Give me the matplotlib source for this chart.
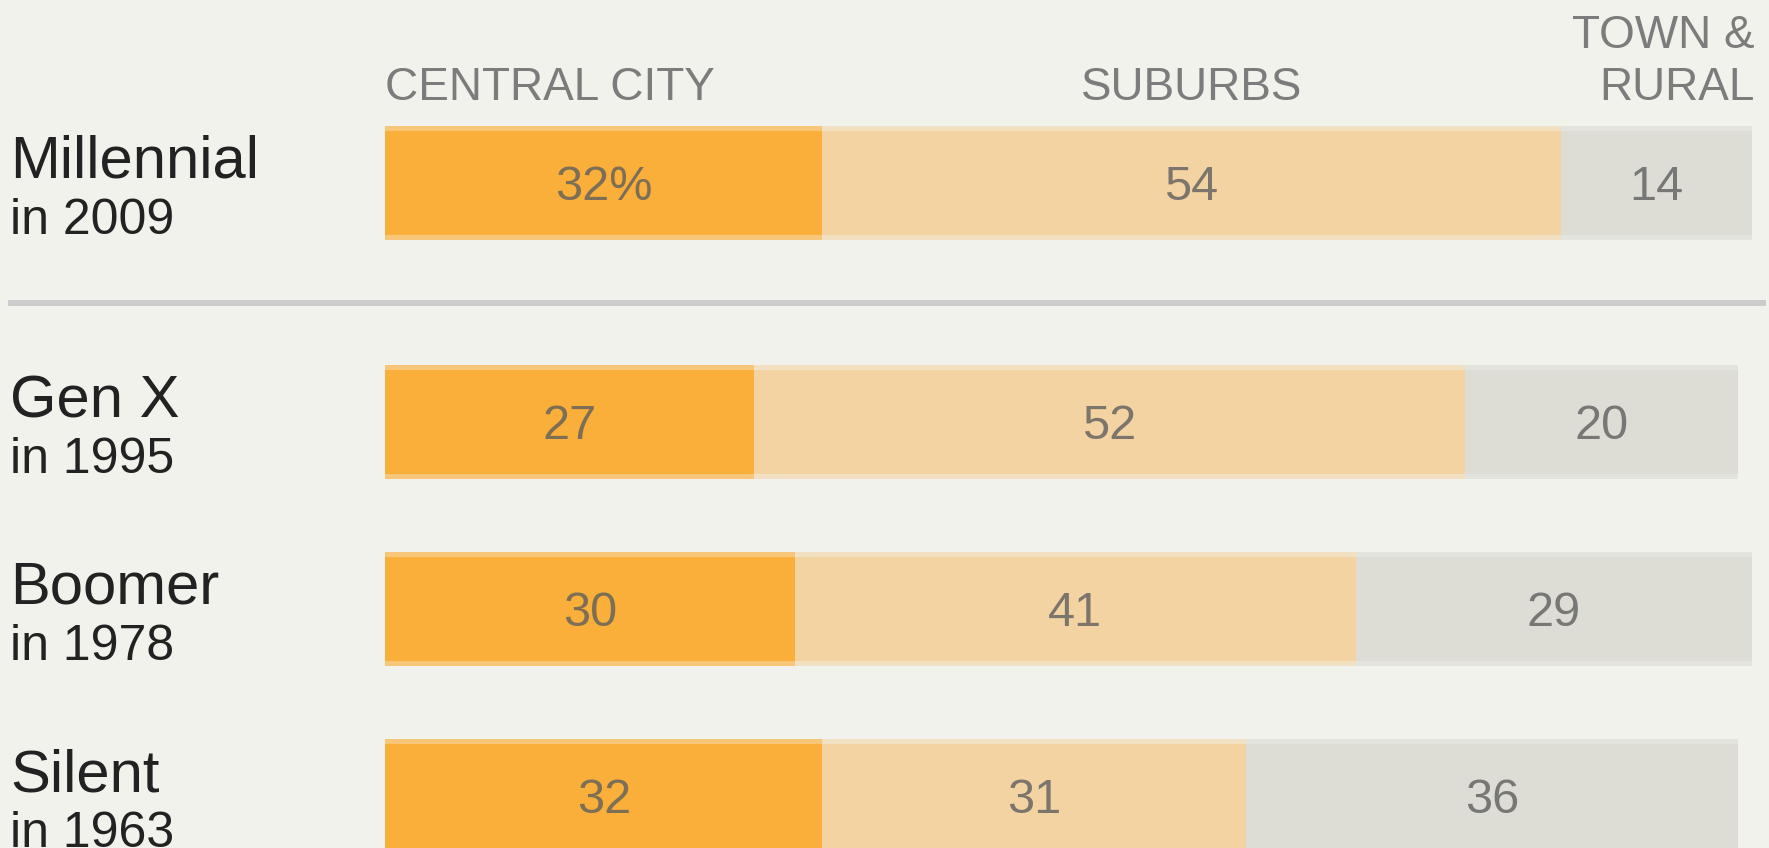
import matplotlib
matplotlib.use("Agg")
import matplotlib.pyplot as plt
import numpy as np

# Share of each generation living in each area type, when they were young adults
generations = ["Millennial", "Gen X", "Boomer", "Silent"]
years = ["in 2009", "in 1995", "in 1978", "in 1963"]
central_city = [32, 27, 30, 32]
suburbs = [54, 52, 41, 31]
town_rural = [14, 20, 29, 36]
headers = ["CENTRAL CITY", "SUBURBS", "TOWN &\nRURAL"]

BG = "#F2F2EC"
main_colors = ["#F9AF3A", "#F2D3A1", "#DDDDD5"]
edge_colors = ["#F8C678", "#F2E0C2", "#E4E4DE"]

PX = 187.0  # pixels per row unit
gap = 52 / PX
ypos = np.arange(len(generations)) + np.array([0, gap, gap, gap])

fig = plt.figure(figsize=(17.69, 8.48), dpi=100, facecolor=BG)
ax = fig.add_axes([0, 0, 1, 1])
ax.set_facecolor(BG)
ax.set_xlim(-385 / 13.67, (1769 - 385) / 13.67)
ax.set_ylim((848 - 183) / PX, -183 / PX)
ax.axis("off")

series = [central_city, suburbs, town_rural]
lefts = np.zeros(len(generations))
for i, vals in enumerate(series):
    vals = np.array(vals, dtype=float)
    ax.barh(ypos, vals, left=lefts, height=114 / PX, color=edge_colors[i], linewidth=0)
    ax.barh(ypos, vals, left=lefts, height=104 / PX, color=main_colors[i], linewidth=0)
    for j, v in enumerate(vals):
        txt = f"{int(v)}%" if (i == 0 and j == 0) else f"{int(v)}"
        ax.text(lefts[j] + v / 2, ypos[j] + 17 / PX, txt, ha="center", va="baseline",
                fontsize=35, color="#5e5e5e", alpha=0.8, family="Liberation Sans")
    lefts = lefts + vals

# row labels
trans = ax.get_yaxis_transform()
for j, (g, yr) in enumerate(zip(generations, years)):
    ax.text(10 / 1769, ypos[j] - 5 / PX, g, transform=trans, ha="left", va="baseline",
            fontsize=43, color="#222222", family="Liberation Sans")
    ax.text(10 / 1769, ypos[j] + 51 / PX, yr, transform=trans, ha="left", va="baseline",
            fontsize=36, color="#222222", family="Liberation Sans")

# column headers, placed over the Millennial bar
hdr_font = dict(fontsize=33, color="#7c7c7c", va="baseline", family="Liberation Sans")
hy = ypos[0] - 83 / PX
ax.text(0, hy, headers[0], ha="left", **hdr_font)
ax.text(central_city[0] + suburbs[0] / 2, hy, headers[1], ha="center", **hdr_font)
top_line, bottom_line = headers[2].split("\n")
ax.text(100.2, hy - 52 / PX, top_line, ha="right", **hdr_font)
ax.text(100.2, hy, bottom_line, ha="right", **hdr_font)

# separator between Millennial and older generations
ax.axhline((ypos[0] + ypos[1]) / 2, xmin=11 / 1769, xmax=1763 / 1769, color="#CCCCCC", linewidth=4.3)

fig.savefig("out.png", dpi=100, facecolor=BG)
